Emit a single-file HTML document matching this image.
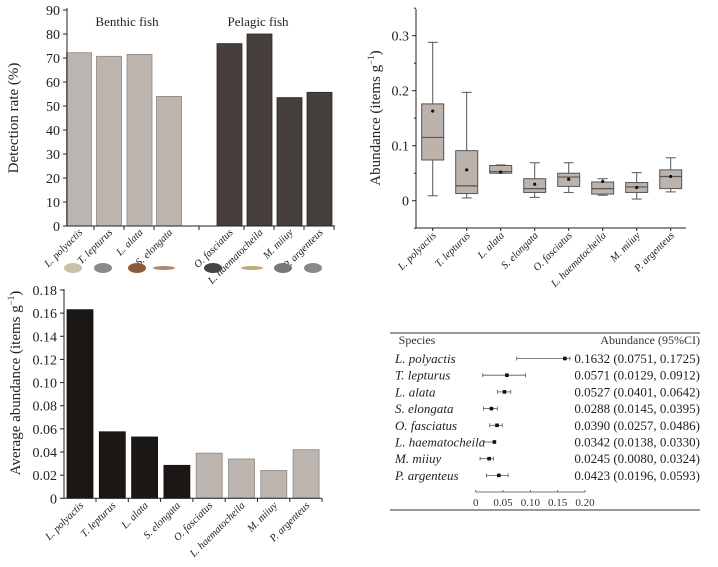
<!DOCTYPE html>
<html><head><meta charset="utf-8"><style>
body{margin:0;background:#fff;}
svg{display:block;font-family:"Liberation Serif",serif;}
</style></head><body>
<svg id="s" width="718" height="567" viewBox="0 0 718 567" xmlns="http://www.w3.org/2000/svg"></svg>
<script>
const species=["L. polyactis","T. lepturus","L. alata","S. elongata","O. fasciatus","L. haematocheila","M. miiuy","P. argenteus"];
const detectRate=[72.2,70.7,71.5,54,76,80,53.5,55.7];
const detectTicks=[0,10,20,30,40,50,60,70,80,90];
const boxMax=[0.288,0.197,0.065,0.069,0.069,0.040,0.051,0.078];
const boxQ3=[0.176,0.091,0.064,0.040,0.050,0.034,0.033,0.056];
const boxMed=[0.115,0.027,0.053,0.022,0.043,0.022,0.025,0.044];
const boxQ1=[0.074,0.013,0.050,0.015,0.026,0.012,0.015,0.022];
const boxMin=[0.009,0.005,0.050,0.006,0.015,0.010,0.003,0.016];
const boxMean=[0.163,0.056,0.052,0.030,0.039,0.035,0.024,0.044];
const boxTicks=[0,0.1,0.2,0.3];
const avgAbund=[0.163,0.0575,0.053,0.0285,0.039,0.034,0.024,0.042];
const avgTicks=[0,0.02,0.04,0.06,0.08,0.10,0.12,0.14,0.16,0.18];
const ciMean=[0.1632,0.0571,0.0527,0.0288,0.0390,0.0342,0.0245,0.0423];
const ciLow=[0.0751,0.0129,0.0401,0.0145,0.0257,0.0138,0.0080,0.0196];
const ciHigh=[0.1725,0.0912,0.0642,0.0395,0.0486,0.0330,0.0324,0.0593];
const forestTicks=[0,0.05,0.10,0.15,0.20];
const forestTickLabels=["0","0.05","0.10","0.15","0.20"];

const S=document.getElementById('s');const NS="http://www.w3.org/2000/svg";
function el(t,a,p){const e=document.createElementNS(NS,t);for(const k in a)e.setAttribute(k,a[k]);(p||S).appendChild(e);return e;}
function tx(x,y,s,a,p){const e=el('text',Object.assign({x:x,y:y},a),p);e.textContent=s;return e;}

// ---------- Chart A ----------
const gA=el('g',{});


const yA=v=>226-v*(216/90);
const xA=[79,109,139.5,169,229.5,259.5,289.5,319.5];
detectRate.forEach((v,i)=>{const r=el('rect',{x:xA[i]-12.5,y:yA(v),width:25,height:226-yA(v),fill:i<4?'#bcb4af':'#463f3b',stroke:i<4?'#8d8580':'#2e2926','stroke-width':0.8},gA);

});
el('line',{x1:67,y1:8,x2:67,y2:226,stroke:'#222','stroke-width':1},gA);
el('line',{x1:67,y1:226,x2:335,y2:226,stroke:'#222','stroke-width':1},gA);
detectTicks.forEach(t=>{el('line',{x1:63,y1:yA(t),x2:67,y2:yA(t),stroke:'#222'},gA);
const l=tx(60,yA(t)+5,String(t),{'font-size':14,'text-anchor':'end',fill:'#222'},gA);
});
[94,124,154,199,244,274,304,334].forEach(x=>el('line',{x1:x,y1:226,x2:x,y2:230,stroke:'#222'},gA));
const tA=tx(18,118,'Detection rate (%)',{'font-size':15,'text-anchor':'middle',transform:'rotate(-90 18 118)',fill:'#222'},gA);

const bf=tx(127,26,'Benthic fish',{'font-size':13,'text-anchor':'middle',fill:'#222'},gA);

const pf=tx(258,26,'Pelagic fish',{'font-size':13,'text-anchor':'middle',fill:'#222'},gA);

species.forEach((s,i)=>{const l=tx(xA[i]+4,233,s,{'font-size':10.5,'font-style':'italic','text-anchor':'end',transform:`rotate(-45 ${xA[i]+4} 233)`,fill:'#222'},gA);
});
const fishX=[73,103,137,164,213,252,283,313];
const fishC=['#c9c0a6','#8a8a8a','#8a5a3a','#b08a70','#444','#c0a878','#777','#888'];
fishX.forEach((x,i)=>{const f=el('ellipse',{cx:x,cy:268,rx:i==3||i==5?11:9,ry:i==3||i==5?2:5,fill:fishC[i]},gA);
});

// ---------- Chart B ----------
const gB=el('g',{});


const yB=v=>200.7-v*550;
const xB=i=>432.7+i*34.0;
el('line',{x1:416,y1:9,x2:416,y2:228,stroke:'#222'},gB);
el('line',{x1:416,y1:228,x2:686,y2:228,stroke:'#222'},gB);
boxTicks.forEach(t=>{el('line',{x1:412,y1:yB(t),x2:416,y2:yB(t),stroke:'#222'},gB);
const l=tx(409,yB(t)+5,String(t),{'font-size':14,'text-anchor':'end',fill:'#222'},gB);
});
[-0.05,0.05,0.15,0.25,0.35].forEach(t=>el('line',{x1:414,y1:yB(t),x2:416,y2:yB(t),stroke:'#222'},gB));
species.forEach((s,i)=>{const x=xB(i),c='#555';
el('line',{x1:x,y1:yB(boxMax[i]),x2:x,y2:yB(boxMin[i]),stroke:c},gB);
el('line',{x1:x-5,y1:yB(boxMax[i]),x2:x+5,y2:yB(boxMax[i]),stroke:c},gB);
el('line',{x1:x-5,y1:yB(boxMin[i]),x2:x+5,y2:yB(boxMin[i]),stroke:c},gB);
const b=el('rect',{x:x-11,y:yB(boxQ3[i]),width:22,height:yB(boxQ1[i])-yB(boxQ3[i]),fill:'#bdb3ad',stroke:c},gB);

el('line',{x1:x-11,y1:yB(boxMed[i]),x2:x+11,y2:yB(boxMed[i]),stroke:c,'stroke-width':1.2},gB);
el('circle',{cx:x,cy:yB(boxMean[i]),r:1.6,fill:'#111'},gB);
el('line',{x1:x,y1:228,x2:x,y2:231,stroke:'#222'},gB);
const l=tx(x+4,236,s,{'font-size':10.5,'font-style':'italic','text-anchor':'end',transform:`rotate(-45 ${x+4} 236)`,fill:'#222'},gB);
});
const tB=tx(380,118,'Abundance (items g',{'font-size':15,'text-anchor':'middle',transform:'rotate(-90 380 118)',fill:'#222'},gB);
const sup=el('tspan',{'font-size':9,dy:-6},tB);sup.textContent='−1';const cl=el('tspan',{dy:6},tB);cl.textContent=')';


// ---------- Chart C ----------
const gC=el('g',{});


const yC=v=>498.3-v*(208.3/0.18);
const xC=i=>80+i*32.3;
avgAbund.forEach((v,i)=>{const r=el('rect',{x:xC(i)-13,y:yC(v),width:26,height:498.3-yC(v),fill:i<4?'#1b1715':'#bdb5b0',stroke:i<4?'#111':'#8d8580','stroke-width':0.8},gC);

el('line',{x1:xC(i)+16,y1:498.3,x2:xC(i)+16,y2:502,stroke:'#222'},gC);
const l=tx(xC(i)+4,506,species[i],{'font-size':10.5,'font-style':'italic','text-anchor':'end',transform:`rotate(-45 ${xC(i)+4} 506)`,fill:'#222'},gC);
});
el('line',{x1:64,y1:289,x2:64,y2:498.3,stroke:'#222'},gC);
el('line',{x1:64,y1:498.3,x2:322,y2:498.3,stroke:'#222'},gC);
avgTicks.forEach(t=>{el('line',{x1:60,y1:yC(t),x2:64,y2:yC(t),stroke:'#222'},gC);
const l=tx(57,yC(t)+5,t==0?'0':t.toFixed(2),{'font-size':14,'text-anchor':'end',fill:'#222'},gC);
});
const tC=tx(20,383,'Average abundance (items g',{'font-size':15,'text-anchor':'middle',transform:'rotate(-90 20 383)',fill:'#222'},gC);
const sup2=el('tspan',{'font-size':9,dy:-6},tC);sup2.textContent='−1';const cl2=el('tspan',{dy:6},tC);cl2.textContent=')';


// ---------- Forest table ----------
const gD=el('g',{});


el('line',{x1:390,y1:333,x2:700,y2:333,stroke:'#333','stroke-width':1},gD);
el('line',{x1:390,y1:510,x2:700,y2:510,stroke:'#333','stroke-width':1},gD);
const h1=tx(417,344,'Species',{'font-size':12,'text-anchor':'middle',fill:'#333'},gD);

const h2=tx(700,344,'Abundance (95%CI)',{'font-size':12,'text-anchor':'end',fill:'#333'},gD);

const xF=v=>475.7+v*546.5;
const rowY=i=>358.5+i*16.7;
species.forEach((s,i)=>{const y=rowY(i);
const n=tx(395,y+4.5,s,{'font-size':13,'font-style':'italic',fill:'#222'},gD);

const v=tx(700,y+4.5,`${ciMean[i].toFixed(4)} (${ciLow[i].toFixed(4)}, ${ciHigh[i].toFixed(4)})`,{'font-size':13,'text-anchor':'end',fill:'#222'},gD);

el('line',{x1:xF(ciLow[i]),y1:y,x2:xF(ciHigh[i]),y2:y,stroke:'#555','stroke-width':0.8},gD);
el('line',{x1:xF(ciLow[i]),y1:y-2,x2:xF(ciLow[i]),y2:y+2,stroke:'#555','stroke-width':0.8},gD);
el('line',{x1:xF(ciHigh[i]),y1:y-2,x2:xF(ciHigh[i]),y2:y+2,stroke:'#555','stroke-width':0.8},gD);
const p=el('rect',{x:xF(ciMean[i])-1.8,y:y-1.8,width:3.6,height:3.6,fill:'#111'},gD);
});
el('line',{x1:xF(0),y1:492,x2:xF(0.2),y2:492,stroke:'#444','stroke-width':0.8},gD);
forestTicks.forEach((t,i)=>{el('line',{x1:xF(t),y1:490,x2:xF(t),y2:492,stroke:'#444','stroke-width':0.8},gD);
const l=tx(xF(t),506,forestTickLabels[i],{'font-size':11,'text-anchor':'middle',fill:'#333'},gD);
});
</script>
</body></html>
